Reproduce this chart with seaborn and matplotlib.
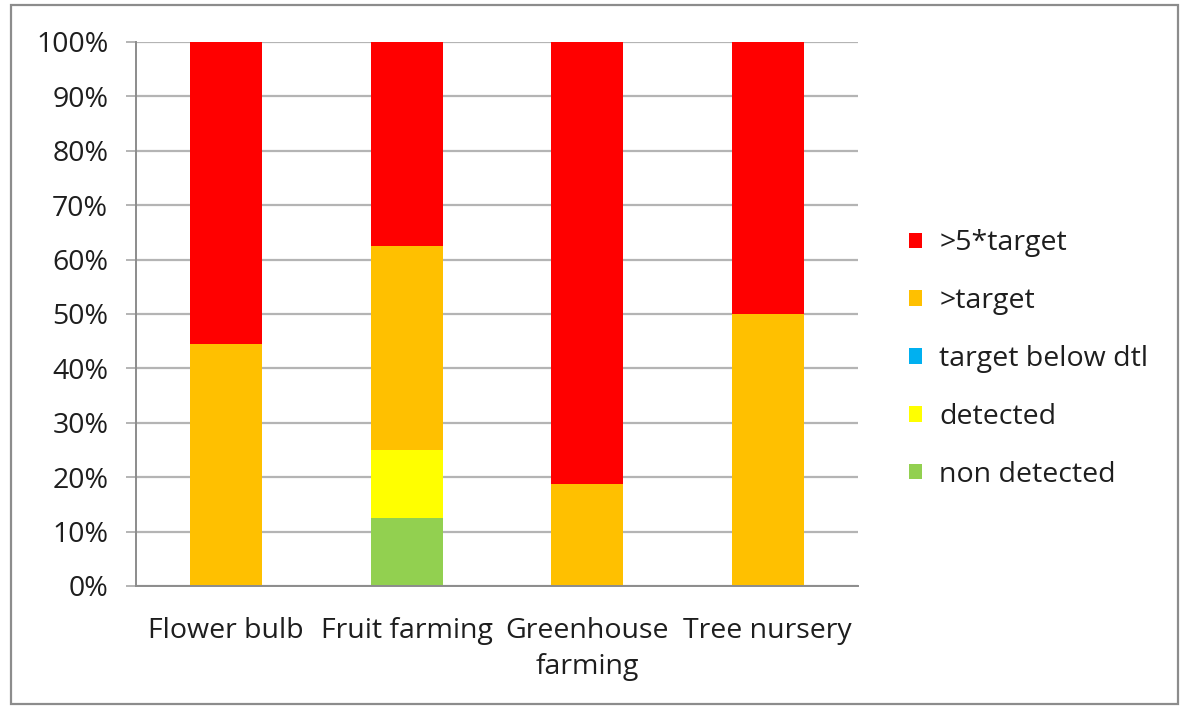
import matplotlib
matplotlib.use("Agg")
import matplotlib.pyplot as plt
from matplotlib.patches import Patch, Rectangle
from matplotlib.ticker import PercentFormatter, FixedLocator
import seaborn as sns

# Share of samples per class, in percent of each sector
categories = ["Flower bulb", "Fruit farming", "Greenhouse\nfarming", "Tree nursery"]
non_detected = [0.0, 12.5, 0.0, 0.0]
detected = [0.0, 12.5, 0.0, 0.0]
target_below_dtl = [0.0, 0.0, 0.0, 0.0]
above_target = [44.4, 37.5, 18.75, 50.0]
above_5x_target = [55.6, 37.5, 81.25, 50.0]

series_names = ["non detected", "detected", "target below dtl", ">target", ">5*target"]
series_values = [non_detected, detected, target_below_dtl, above_target, above_5x_target]
series_colors = ["#92D050", "#FFFF00", "#00B0F0", "#FFC000", "#FF0000"]

sns.set_theme(style="white")
plt.rcParams["font.family"] = ["Open Sans", "DejaVu Sans"]
text_color = "#1e1e1e"
grid_color = "#b4b4b4"
axis_color = "#8c8c8c"
fs = 20.5

fig = plt.figure(figsize=(11.82, 7.06), dpi=100)
ax = fig.add_axes([136 / 1182, 1 - 586 / 706, (858 - 136) / 1182, (586 - 42) / 706])

bottom = [0.0] * len(categories)
for name, vals, col in zip(series_names, series_values, series_colors):
    sns.barplot(x=categories, y=vals, bottom=bottom, color=col, width=0.4,
                errorbar=None, saturation=1, linewidth=0, ax=ax)
    bottom = [b + v for b, v in zip(bottom, vals)]

ax.set_ylim(0, 100)
ax.set_xlim(-0.5, len(categories) - 0.5)
ax.set_yticks(range(0, 101, 10))
ax.yaxis.set_major_formatter(PercentFormatter(decimals=0))
ax.set_axisbelow(True)
ax.yaxis.grid(True, color=grid_color, linewidth=1.6)
ax.xaxis.grid(False)

for side in ("top", "right"):
    ax.spines[side].set_visible(False)
for side in ("left", "bottom"):
    ax.spines[side].set_color(axis_color)
    ax.spines[side].set_linewidth(1.4)

ax.xaxis.set_minor_locator(FixedLocator([i - 0.5 for i in range(len(categories) + 1)]))
ax.tick_params(axis="x", which="major", length=0, pad=22, labelsize=fs, labelcolor=text_color)
ax.tick_params(axis="x", which="minor", length=7, width=1.4, color=axis_color, direction="out")
ax.tick_params(axis="y", which="major", length=7, width=1.4, color=grid_color, direction="out",
               pad=13, labelsize=fs, labelcolor=text_color, left=True)
for lbl in ax.get_xticklabels():
    lbl.set_linespacing(1.42)
ax.set_xlabel("")
ax.set_ylabel("")

handles = [Patch(facecolor=c, edgecolor="none") for c in series_colors][::-1]
labels = series_names[::-1]
fig.legend(handles, labels, loc="upper left", bbox_to_anchor=(898 / 1182, 1 - 218 / 706),
           frameon=False, fontsize=fs, labelcolor=text_color, handlelength=0.45,
           handleheight=0.45, handletextpad=0.6, labelspacing=1.05, borderaxespad=0)

fig.patches.append(Rectangle((11 / 1182, 2 / 706), (1178 - 11) / 1182, (701 - 2) / 706,
                             transform=fig.transFigure, fill=False,
                             edgecolor=axis_color, linewidth=1.6))

fig.savefig("out.png", dpi=100, facecolor="white")
